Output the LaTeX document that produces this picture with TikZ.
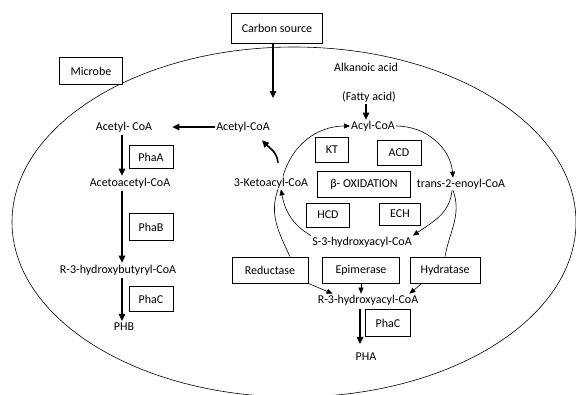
\documentclass[tikz,border=0pt]{standalone}
\usepackage{fontspec}
\setmainfont{Carlito}
\usepackage{tikz}
\usetikzlibrary{arrows.meta,shapes}
\tikzstyle{enzyme}=[draw, fill=white, rectangle, inner sep=0pt, line width=0.8pt, font=\fontsize{12}{14}\selectfont]
\tikzstyle{metabolite}=[draw=none, inner sep=1pt, font=\fontsize{12}{14}\selectfont]
\tikzstyle{flux} = [draw, line width=1.6pt, -{Triangle[length=7pt,width=6.5pt]}]
\tikzstyle{cycle edge} = [draw, line width=0.6pt, -{Triangle[length=6pt,width=5pt]}]
\tikzstyle{plain edge} = [draw, line width=0.6pt]
\tikzstyle{cell} = [draw, line width=0.6pt]

\begin{document}
\begin{tikzpicture}[x=1pt, y=-1pt]
	\useasboundingbox (0,0) rectangle (576,394);
	\clip (0,0) rectangle (576,394);
	% First we draw the microbe
	\path[cell] (294,222) ellipse [x radius=282pt, y radius=175pt];
	
	% Enzyme boxes
	\foreach \pos/\label/\name/\boxw/\boxh in {
		{(277,28)/carbon/Carbon source/91/30},
		{(91,71)/microbe/Microbe/63/27},
		{(151,157)/phaA/PhaA/44/23},
		{(151,227)/phaB/PhaB/44/27},
		{(151,299)/phaCL/PhaC/44/25},
		{(332,150)/kt/KT/33/25},
		{(399,153)/acd/ACD/44/25},
		{(364,184)/beta/β- OXIDATION/93/26},
		{(328,215)/hcd/HCD/43/24},
		{(400,214)/ech/ECH/41/22},
		{(270,270)/reductase/Reductase/76/26},
		{(361,270)/epimerase/Epimerase/77/26},
		{(445,270)/hydratase/Hydratase/70/26},
		{(388,323)/phaCR/PhaC/45/27}}
	\node[enzyme, minimum width=\boxw pt, minimum height=\boxh pt] (\label) at \pos {\name};
	
	% Metabolites
	\foreach \pos/\label/\name in {
		{(243,127)/acetylR/Acetyl-CoA},
		{(124,127)/acetylL/Acetyl- CoA},
		{(130,183)/acetoacetyl/Acetoacetyl-CoA},
		{(118,270)/hbcoa/R-3-hydroxybutyryl-CoA},
		{(124,327)/phb/PHB},
		{(366,67)/alkanoic/Alkanoic acid},
		{(369,97)/fatty/(Fatty acid)},
		{(373,126)/acyl/Acyl-CoA},
		{(271,183)/ketoacyl/3-Ketoacyl-CoA},
		{(461,184)/trans/trans-2-enoyl-CoA},
		{(362,242)/shacyl/S-3-hydroxyacyl-CoA},
		{(368,300)/rhacyl/R-3-hydroxyacyl-CoA},
		{(366,357)/pha/PHA}}
	\node[metabolite] (\label) at \pos {\name};
	
	% Thick arrows of the PHB route
	\coordinate (uptake) at (273,98);
	\coordinate (axis) at (122,0);
	\path[flux] (carbon.south -| uptake) -- (uptake);
	\path[flux, shorten >=19pt] (acetylR.west) -- (acetylL.east);
	\foreach \source/\dest in {acetylL/acetoacetyl, acetoacetyl/hbcoa, hbcoa/phb}
	\path[flux, shorten <=2pt, shorten >=1pt] (\source.south -| axis) -- (\dest.north -| axis);
	\path[flux, shorten <=3pt, shorten >=8pt] ([xshift=-8pt]rhacyl.south) -- ([xshift=-6pt]pha.north);
	\path[flux, line width=1.1pt] ([xshift=-3pt]fatty.south) -- ([xshift=-7pt]acyl.north);
	\path[flux] ([shift={(7,-14)}]ketoacyl.north) to[out=95,in=-45] ([shift={(19,7)}]acetylR.south);
	
	% Beta oxidation cycle
	\path[cycle edge] ([xshift=12pt]ketoacyl.north) to[out=75, in=180] (acyl.west);
	\path[cycle edge] (acyl.east) to[out=0, in=95] ([xshift=-8pt]trans.north);
	\path[cycle edge] ([xshift=-9pt]trans.south) to[out=-95, in=35] (shacyl.north east);
	\path[cycle edge] (shacyl.north west) to[out=150, in=-80] ([xshift=10pt]ketoacyl.south);
	
	% Routes to R-3-hydroxyacyl-CoA
	\path[plain edge] ([xshift=7pt]ketoacyl.south) to[out=-110, in=115] ([xshift=20pt]reductase.north);
	\path[plain edge] ([xshift=-8pt]trans.south) to[out=-70, in=80] (hydratase.north);
	\path[cycle edge] (reductase.south east) -- ([xshift=16pt]rhacyl.north west);
	\path[cycle edge] (epimerase.south) -- (epimerase.south |- rhacyl.north);
	\path[cycle edge] ([xshift=-23pt]hydratase.south) -- ([xshift=-10pt]rhacyl.north east);
\end{tikzpicture}
\end{document}
